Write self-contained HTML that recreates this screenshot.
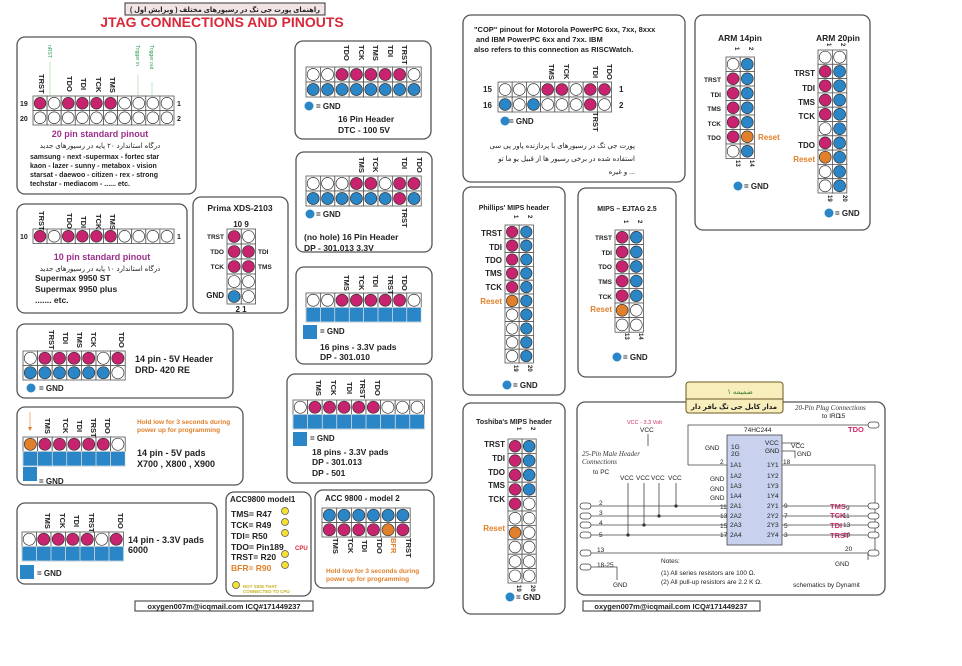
<!DOCTYPE html>
<html><head><meta charset="utf-8"><style>
html,body{margin:0;padding:0;background:#fff;}
svg{display:block;font-family:"Liberation Sans","Noto Sans CJK SC",sans-serif;}
.b{font-weight:bold;fill:#222;}
.bx{fill:#fff;stroke:#555;stroke-width:1.3;}
.fa{font-family:"Liberation Sans","DejaVu Sans",sans-serif;font-size:7px;fill:#222;}
.sm{font-size:7px;}
.v{font-size:7.5px;font-weight:bold;fill:#222;}
.or{fill:#e0802a;}
.mg{fill:#9c2f8a;}
.it{font-family:"Liberation Serif",serif;font-style:italic;font-size:7px;fill:#333;}
.sc{font-size:6.5px;fill:#222;}
.ln{stroke:#444;stroke-width:0.8;fill:none;}
</style></head><body>
<svg id="s" width="962" height="666" viewBox="0 0 962 666" xmlns="http://www.w3.org/2000/svg">
<rect width="962" height="666" fill="#fff"/>
<!-- title -->
<rect x="125" y="3" width="200" height="12" fill="#f2e4e4" stroke="#333" stroke-width="1"/>
<text x="225" y="12" text-anchor="middle" class="fa" style="font-size:7px;font-weight:bold" textLength="190" lengthAdjust="spacingAndGlyphs">راهنمای پورت جی تگ در رسیورهای مختلف ( ویرایش اول )</text>
<text x="222" y="27" text-anchor="middle" style="font-size:14px;font-weight:bold;fill:#d8283a">JTAG CONNECTIONS AND PINOUTS</text>

<!-- boxes -->
<rect class="bx" x="17" y="37" width="179" height="157" rx="8"/>
<rect class="bx" x="17" y="204" width="170" height="109" rx="8"/>
<rect class="bx" x="193" y="197" width="95" height="116" rx="8"/>
<rect class="bx" x="295" y="41" width="136" height="98" rx="8"/>
<rect class="bx" x="296" y="152" width="136" height="100" rx="8"/>
<rect class="bx" x="296" y="267" width="136" height="97" rx="8"/>
<rect class="bx" x="17" y="324" width="216" height="74" rx="8"/>
<rect class="bx" x="17" y="407" width="226" height="78" rx="8"/>
<rect class="bx" x="17" y="503" width="200" height="81" rx="8"/>
<rect class="bx" x="287" y="374" width="145" height="109" rx="8"/>
<rect class="bx" x="226" y="492" width="85" height="104" rx="8"/>
<rect class="bx" x="315" y="490" width="119" height="98" rx="8"/>
<rect class="bx" x="463" y="15" width="222" height="167" rx="8"/>
<rect class="bx" x="695" y="15" width="175" height="215" rx="8"/>
<rect class="bx" x="463" y="187" width="102" height="208" rx="8"/>
<rect class="bx" x="578" y="188" width="98" height="189" rx="8"/>
<rect class="bx" x="463" y="403" width="102" height="211" rx="8"/>
<rect class="bx" x="577" y="402" width="308" height="193" rx="8"/>
<rect x="135" y="601" width="178" height="10" fill="#fff" stroke="#333"/>
<text x="224" y="609" text-anchor="middle" class="b" style="font-size:7.5px">oxygen007m@icqmail.com    ICQ#171449237</text>
<rect x="583" y="601" width="177" height="10" fill="#fff" stroke="#333"/>
<text x="671" y="609" text-anchor="middle" class="b" style="font-size:7.5px">oxygen007m@icqmail.com    ICQ#171449237</text>

<g id="grids"></g>

<!-- Box A 20 pin -->
<g class="v">
<text transform="translate(39,74) rotate(90)">TRST</text>
<text transform="translate(67,76) rotate(90)">TDO</text>
<text transform="translate(81,78) rotate(90)">TDI</text>
<text transform="translate(96,77) rotate(90)">TCK</text>
<text transform="translate(110,77) rotate(90)">TMS</text>
</g>
<g style="font-size:5px;fill:#2a9a4a">
<text transform="translate(48,45) rotate(90)">nRST</text>
<text transform="translate(136,45) rotate(90)">Trigger in</text>
<text transform="translate(150,45) rotate(90)">Trigger out</text>
</g>
<line x1="50" y1="62" x2="50" y2="97" stroke="#8c8" stroke-width="0.5"/>
<line x1="138" y1="75" x2="138" y2="97" stroke="#8c8" stroke-width="0.5"/>
<line x1="152" y1="82" x2="152" y2="97" stroke="#8c8" stroke-width="0.5"/>
<text x="20" y="106" class="b sm">19</text><text x="20" y="121" class="b sm">20</text>
<text x="177" y="106" class="b sm">1</text><text x="177" y="121" class="b sm">2</text>
<text x="100" y="137" text-anchor="middle" class="mg" style="font-size:9px;font-weight:bold">20 pin standard pinout</text>
<text x="100" y="148" text-anchor="middle" class="fa">درگاه استاندارد ۲۰ پایه در رسیورهای جدید</text>
<g class="b" style="font-size:7px"><text x="30" y="159">samsung - next -supermax - fortec star</text>
<text x="30" y="168">kaon - lazer - sunny - metabox - vision</text>
<text x="30" y="177">starsat - daewoo - citizen - rex - strong</text>
<text x="30" y="186">techstar - mediacom - ......  etc.</text></g>

<!-- Box B 10 pin -->
<g class="v">
<text transform="translate(39,211) rotate(90)">TRST</text>
<text transform="translate(67,213) rotate(90)">TDO</text>
<text transform="translate(81,216) rotate(90)">TDI</text>
<text transform="translate(96,214) rotate(90)">TCK</text>
<text transform="translate(110,214) rotate(90)">TMS</text>
</g>
<text x="20" y="239" class="b sm">10</text><text x="177" y="239" class="b sm">1</text>
<text x="102" y="260" text-anchor="middle" class="mg" style="font-size:9px;font-weight:bold">10 pin standard pinout</text>
<text x="100" y="271" text-anchor="middle" class="fa">درگاه استاندارد ۱۰ پایه در رسیورهای جدید</text>
<g class="b" style="font-size:8.5px"><text x="35" y="281">Supermax 9950 ST</text>
<text x="35" y="292">Supermax 9950 plus</text><text x="35" y="303">....... etc.</text></g>

<!-- Prima -->
<text x="240" y="211" text-anchor="middle" class="b" style="font-size:8.5px">Prima  XDS-2103</text>
<text x="241" y="227" text-anchor="middle" class="b" style="font-size:8px">10  9</text>
<g class="b" style="font-size:6.5px"><text x="224" y="239" text-anchor="end">TRST</text>
<text x="224" y="254" text-anchor="end">TDO</text><text x="224" y="269" text-anchor="end">TCK</text>
<text x="258" y="254">TDI</text><text x="258" y="269">TMS</text></g>
<text x="224" y="298" text-anchor="end" class="b" style="font-size:8px">GND</text>
<text x="241" y="312" text-anchor="middle" class="b" style="font-size:8px">2  1</text>

<!-- DTC 16 -->
<g class="v">
<text transform="translate(344,45) rotate(90)">TDO</text>
<text transform="translate(359,45) rotate(90)">TCK</text>
<text transform="translate(373,45) rotate(90)">TMS</text>
<text transform="translate(388,45) rotate(90)">TDI</text>
<text transform="translate(402,45) rotate(90)">TRST</text>
</g>
<text x="316" y="109" class="b" style="font-size:8px">= GND</text>
<text x="338" y="122" class="b" style="font-size:8.5px">16 Pin Header</text>
<text x="338" y="133" class="b" style="font-size:8.5px">DTC - 100      5V</text>

<!-- no hole 16 -->
<g class="v">
<text transform="translate(359,157) rotate(90)">TMS</text>
<text transform="translate(373,157) rotate(90)">TCK</text>
<text transform="translate(402,157) rotate(90)">TDI</text>
<text transform="translate(417,157) rotate(90)">TDO</text>
<text transform="translate(402,208) rotate(90)">TRST</text>
</g>
<text x="316" y="217" class="b" style="font-size:8px">= GND</text>
<text x="304" y="240" class="b" style="font-size:8.5px">(no hole) 16 Pin Header</text>
<text x="304" y="251" class="b" style="font-size:8.5px">DP - 301.013        3.3V</text>

<!-- 16 pads -->
<g class="v">
<text transform="translate(344,275) rotate(90)">TMS</text>
<text transform="translate(359,275) rotate(90)">TCK</text>
<text transform="translate(373,275) rotate(90)">TDI</text>
<text transform="translate(388,275) rotate(90)">TRST</text>
<text transform="translate(402,275) rotate(90)">TDO</text>
</g>
<text x="320" y="334" class="b" style="font-size:8px">= GND</text>
<text x="320" y="350" class="b" style="font-size:8.5px">16 pins -    3.3V pads</text>
<text x="320" y="360" class="b" style="font-size:8.5px">DP - 301.010</text>

<!-- DRD -->
<g class="v">
<text transform="translate(49,330) rotate(90)">TRST</text>
<text transform="translate(63,332) rotate(90)">TDI</text>
<text transform="translate(77,332) rotate(90)">TMS</text>
<text transform="translate(91,332) rotate(90)">TCK</text>
<text transform="translate(119,332) rotate(90)">TDO</text>
</g>
<text x="135" y="362" class="b" style="font-size:9px">14 pin -   5V Header</text>
<text x="135" y="373" class="b" style="font-size:9px">DRD- 420 RE</text>
<text x="39" y="391" class="b" style="font-size:8px">= GND</text>

<!-- X700 -->
<g class="v">
<text transform="translate(45,418) rotate(90)">TMS</text>
<text transform="translate(63,418) rotate(90)">TCK</text>
<text transform="translate(77,420) rotate(90)">TDI</text>
<text transform="translate(91,418) rotate(90)">TRST</text>
<text transform="translate(105,418) rotate(90)">TDO</text>
</g>
<path d="M30 412 V428" stroke="#e0802a" stroke-width="0.6"/><path d="M28 427 L32 427 L30 431Z" class="or"/>
<text x="137" y="424" class="or" style="font-size:6.5px;font-weight:bold">Hold low for 3 seconds during</text>
<text x="137" y="432" class="or" style="font-size:6.5px;font-weight:bold">power up for programming</text>
<text x="137" y="456" class="b" style="font-size:9px">14 pin -   5V pads</text>
<text x="137" y="467" class="b" style="font-size:9px">X700 , X800 , X900</text>
<text x="39" y="484" class="b" style="font-size:8px">= GND</text>

<!-- 6000 -->
<g class="v">
<text transform="translate(45,513) rotate(90)">TMS</text>
<text transform="translate(60,513) rotate(90)">TCK</text>
<text transform="translate(74,515) rotate(90)">TDI</text>
<text transform="translate(89,513) rotate(90)">TRST</text>
<text transform="translate(118,513) rotate(90)">TDO</text>
</g>
<text x="128" y="543" class="b" style="font-size:9px">14 pin -  3.3V pads</text>
<text x="128" y="553" class="b" style="font-size:9px">6000</text>
<text x="37" y="576" class="b" style="font-size:8px">= GND</text>

<!-- 18 pins -->
<g class="v">
<text transform="translate(316,380) rotate(90)">TMS</text>
<text transform="translate(331,380) rotate(90)">TCK</text>
<text transform="translate(347,382) rotate(90)">TDI</text>
<text transform="translate(360,379) rotate(90)">TRST</text>
<text transform="translate(375,380) rotate(90)">TDO</text>
</g>
<text x="310" y="441" class="b" style="font-size:8px">= GND</text>
<text x="312" y="455" class="b" style="font-size:8.5px">18 pins -       3.3V pads</text>
<text x="312" y="465" class="b" style="font-size:8.5px">DP - 301.013</text>
<text x="312" y="476" class="b" style="font-size:8.5px">DP - 501</text>

<!-- ACC model1 -->
<text x="230" y="502" class="b" style="font-size:8px">ACC9800 model1</text>
<g class="b" style="font-size:8.5px"><text x="231" y="517">TMS= R47</text><text x="231" y="528">TCK= R49</text>
<text x="231" y="539">TDI= R50</text><text x="231" y="550">TDO= Pin189</text><text x="231" y="560">TRST= R20</text></g>
<text x="295" y="550" style="font-size:6px;fill:#d8283a;font-weight:bold">CPU</text>
<text x="231" y="571" class="or" style="font-size:8.5px;font-weight:bold">BFR= R90</text>
<text x="243" y="588" style="font-size:4.5px;fill:#c8b020;font-weight:bold">NOT SIDE THAT</text>
<text x="243" y="593" style="font-size:4.5px;fill:#c8b020;font-weight:bold">CONNECTED TO CPU</text>

<!-- ACC model2 -->
<text x="325" y="501" class="b" style="font-size:8px">ACC 9800 - model 2</text>
<g class="v">
<text transform="translate(333,538) rotate(90)">TMS</text>
<text transform="translate(348,538) rotate(90)">TCK</text>
<text transform="translate(362,540) rotate(90)">TDI</text>
<text transform="translate(377,538) rotate(90)">TDO</text>
<text transform="translate(391,538) rotate(90)" class="or">BFR</text>
<text transform="translate(406,538) rotate(90)">TRST</text>
</g>
<text x="326" y="573" class="or" style="font-size:6.5px;font-weight:bold">Hold low for 3 seconds during</text>
<text x="326" y="581" class="or" style="font-size:6.5px;font-weight:bold">power up for programming</text>

<!-- COP -->
<g class="b" style="font-size:7.5px"><text x="474" y="32">"COP" pinout for Motorola PowerPC 6xx, 7xx, 8xxx</text>
<text x="476" y="42">and IBM PowerPC 6xx and 7xx. IBM</text>
<text x="474" y="52">also refers to this connection as RISCWatch.</text></g>
<g class="v">
<text transform="translate(549,64) rotate(90)">TMS</text>
<text transform="translate(564,64) rotate(90)">TCK</text>
<text transform="translate(593,66) rotate(90)">TDI</text>
<text transform="translate(607,64) rotate(90)">TDO</text>
<text transform="translate(593,112) rotate(90)">TRST</text>
</g>
<text x="483" y="92" class="b" style="font-size:8px">15</text><text x="483" y="108" class="b" style="font-size:8px">16</text>
<text x="619" y="92" class="b" style="font-size:8px">1</text><text x="619" y="108" class="b" style="font-size:8px">2</text>
<text x="509" y="124" class="b" style="font-size:8px">= GND</text>
<g class="fa" text-anchor="end"><text x="635" y="148">پورت جی تگ در رسیورهای با پردازنده پاور پی سی</text>
<text x="635" y="161">استفاده شده در برخی رسیور ها از قبیل یو ما تو</text><text x="635" y="174">و غیره ...</text></g>

<!-- ARM -->
<text x="740" y="41" text-anchor="middle" class="b" style="font-size:8.5px">ARM 14pin</text>
<text x="838" y="41" text-anchor="middle" class="b" style="font-size:8.5px">ARM 20pin</text>
<g class="v" style="font-size:6px"><text transform="translate(735,47) rotate(90)">1</text><text transform="translate(749,47) rotate(90)">2</text>
<text transform="translate(827,43) rotate(90)">1</text><text transform="translate(841,43) rotate(90)">2</text>
<text transform="translate(736,160) rotate(90)">13</text><text transform="translate(750,160) rotate(90)">14</text>
<text transform="translate(828,195) rotate(90)">19</text><text transform="translate(843,195) rotate(90)">20</text></g>
<g class="b" style="font-size:6.5px" text-anchor="end"><text x="721" y="82">TRST</text><text x="721" y="97">TDI</text>
<text x="721" y="111">TMS</text><text x="721" y="126">TCK</text><text x="721" y="140">TDO</text></g>
<text x="758" y="140" class="or" style="font-size:8px;font-weight:bold">Reset</text>
<text x="744" y="189" class="b" style="font-size:8px">= GND</text>
<g class="b" style="font-size:8px" text-anchor="end"><text x="815" y="76">TRST</text><text x="815" y="91">TDI</text>
<text x="815" y="105">TMS</text><text x="815" y="119">TCK</text><text x="815" y="148">TDO</text></g>
<text x="815" y="162" text-anchor="end" class="or" style="font-size:8px;font-weight:bold">Reset</text>
<text x="835" y="216" class="b" style="font-size:8px">= GND</text>

<!-- Phillips -->
<text x="514" y="210" text-anchor="middle" class="b" style="font-size:7px">Phillips' MIPS header</text>
<g class="v" style="font-size:6px"><text transform="translate(514,215) rotate(90)">1</text><text transform="translate(528,215) rotate(90)">2</text>
<text transform="translate(514,365) rotate(90)">19</text><text transform="translate(528,365) rotate(90)">20</text></g>
<g class="b" style="font-size:8px" text-anchor="end"><text x="502" y="236">TRST</text><text x="502" y="250">TDI</text>
<text x="502" y="263">TDO</text><text x="502" y="276">TMS</text><text x="502" y="290">TCK</text></g>
<text x="502" y="304" text-anchor="end" class="or" style="font-size:8px;font-weight:bold">Reset</text>
<text x="513" y="388" class="b" style="font-size:8px">= GND</text>

<!-- MIPS EJTAG -->
<text x="627" y="211" text-anchor="middle" class="b" style="font-size:7px">MIPS – EJTAG 2.5</text>
<g class="v" style="font-size:6px"><text transform="translate(624,220) rotate(90)">1</text><text transform="translate(638,220) rotate(90)">2</text>
<text transform="translate(625,333) rotate(90)">13</text><text transform="translate(639,333) rotate(90)">14</text></g>
<g class="b" style="font-size:6.5px" text-anchor="end"><text x="612" y="240">TRST</text><text x="612" y="255">TDI</text>
<text x="612" y="269">TDO</text><text x="612" y="284">TMS</text><text x="612" y="299">TCK</text></g>
<text x="612" y="312" text-anchor="end" class="or" style="font-size:8px;font-weight:bold">Reset</text>
<text x="623" y="360" class="b" style="font-size:8px">= GND</text>

<!-- Toshiba -->
<text x="514" y="424" text-anchor="middle" class="b" style="font-size:7px">Toshiba's MIPS header</text>
<g class="v" style="font-size:6px"><text transform="translate(517,427) rotate(90)">1</text><text transform="translate(531,427) rotate(90)">2</text>
<text transform="translate(517,585) rotate(90)">19</text><text transform="translate(531,585) rotate(90)">20</text></g>
<g class="b" style="font-size:8px" text-anchor="end"><text x="505" y="447">TRST</text><text x="505" y="461">TDI</text>
<text x="505" y="475">TDO</text><text x="505" y="488">TMS</text><text x="505" y="502">TCK</text></g>
<text x="505" y="531" text-anchor="end" class="or" style="font-size:8px;font-weight:bold">Reset</text>
<text x="516" y="600" class="b" style="font-size:8px">= GND</text>

<!-- schematic -->
<rect x="686" y="382" width="97" height="31" rx="3" fill="#f8eebc" stroke="#6b5a20"/>
<text x="740" y="394" text-anchor="middle" class="fa" style="fill:#3a7a2a">ضمیمه ۱</text>
<line x1="686" y1="399" x2="783" y2="399" stroke="#6b5a20"/>
<text x="734" y="409" text-anchor="middle" class="fa" style="font-weight:bold">مدار کابل جی تگ بافر دار</text>
<text x="795" y="410" class="it">20-Pin Plug Connections</text>
<text x="822" y="418" class="sc">to IRD</text>
<text x="848" y="432" style="font-size:7.5px;font-weight:bold;fill:#d0286a">TDO</text>
<text x="627" y="424" style="font-size:5.5px;fill:#d0286a">VCC - 3.3 Volt</text>
<text x="640" y="432" class="sc">VCC</text><line x1="648" y1="434" x2="648" y2="446" class="ln"/>
<text x="582" y="456" class="it">25-Pin Male Header</text><text x="582" y="464" class="it">Connections</text>
<text x="593" y="474" class="sc">to PC</text>
<rect x="727" y="435" width="55" height="110" fill="#c8d2ee" stroke="#444" stroke-width="0.8"/>
<text x="744" y="432" class="sc">74HC244</text>
<g class="sc"><text x="731" y="449">1G</text><text x="731" y="456">2G</text>
<text x="730" y="467">1A1</text><text x="730" y="478">1A2</text><text x="730" y="488">1A3</text><text x="730" y="498">1A4</text>
<text x="730" y="508">2A1</text><text x="730" y="518">2A2</text><text x="730" y="527">2A3</text><text x="730" y="537">2A4</text>
<text x="765" y="445">VCC</text><text x="765" y="453">GND</text>
<text x="767" y="467">1Y1</text><text x="767" y="478">1Y2</text><text x="767" y="488">1Y3</text><text x="767" y="498">1Y4</text>
<text x="767" y="508">2Y1</text><text x="767" y="518">2Y2</text><text x="767" y="527">2Y3</text><text x="767" y="537">2Y4</text>
<text x="705" y="450">GND</text><text x="791" y="448">VCC</text><text x="797" y="456">GND</text>
<text x="710" y="481">GND</text><text x="710" y="491">GND</text><text x="710" y="500">GND</text>
<text x="620" y="480">VCC</text><text x="636" y="480">VCC</text><text x="651" y="480">VCC</text><text x="668" y="480">VCC</text>
<text x="599" y="505">2</text><text x="599" y="515">3</text><text x="599" y="525">4</text><text x="599" y="537">5</text><text x="597" y="552">13</text><text x="597" y="567">18-25</text>
<text x="720" y="464">2</text><text x="720" y="509">11</text><text x="720" y="518">13</text><text x="720" y="528">15</text><text x="720" y="537">17</text>
<text x="783" y="464">18</text><text x="784" y="508">9</text><text x="784" y="518">7</text><text x="784" y="528">5</text><text x="784" y="537">3</text>
<text x="846" y="510">9</text><text x="843" y="518">11</text><text x="843" y="527">13</text><text x="843" y="537">19</text><text x="845" y="551">20</text>
<text x="838" y="418">15</text>
<text x="835" y="566">GND</text><text x="613" y="587">GND</text>
<text x="661" y="563">Notes:</text>
<text x="661" y="575">(1)    All series resistors are 100   Ω.</text>
<text x="661" y="584">(2)    All pull-up resistors are 2.2 K   Ω.</text>
<text x="793" y="587" style="font-size:6.5px">schematics by Dynamit</text></g>
<g style="font-size:7.5px;font-weight:bold;fill:#d0286a"><text x="830" y="509">TMS</text><text x="830" y="518">TCK</text><text x="830" y="528">TDI</text><text x="830" y="538">TRST</text></g>
<g class="ln">
<path d="M688 465 V425 H868"/><path d="M688 465 H727"/>
<path d="M590 506 H727"/><path d="M590 516 H727"/><path d="M590 525 H727"/><path d="M590 535 H727"/>
<path d="M590 553 H875 V465 H782"/><path d="M590 567 H617 V580"/>
<path d="M782 506 H868"/><path d="M782 516 H868"/><path d="M782 525 H868"/><path d="M782 535 H868"/>
<path d="M628 483 V535"/><path d="M644 483 V525"/><path d="M659 483 V516"/><path d="M676 483 V506"/>
<path d="M868 553 V560"/><path d="M782 443 H800"/><path d="M782 451 H795 V458"/>
</g>
<g fill="#fff" stroke="#444" stroke-width="0.8">
<rect x="580" y="503" width="11" height="6" rx="3"/><rect x="580" y="513" width="11" height="6" rx="3"/>
<rect x="580" y="522" width="11" height="6" rx="3"/><rect x="580" y="532" width="11" height="6" rx="3"/>
<rect x="580" y="550" width="11" height="6" rx="3"/><rect x="580" y="564" width="11" height="6" rx="3"/>
<rect x="868" y="422" width="11" height="6" rx="3"/><rect x="868" y="503" width="11" height="6" rx="3"/>
<rect x="868" y="513" width="11" height="6" rx="3"/><rect x="868" y="522" width="11" height="6" rx="3"/>
<rect x="868" y="532" width="11" height="6" rx="3"/><rect x="868" y="550" width="11" height="6" rx="3"/>
</g>
<g fill="#333"><circle cx="628" cy="535" r="1.6"/><circle cx="644" cy="525" r="1.6"/><circle cx="659" cy="516" r="1.6"/><circle cx="676" cy="506" r="1.6"/></g>
</svg>
<script>
var NS="http://www.w3.org/2000/svg",G=document.getElementById("grids");
var C={m:"#c8236f",b:"#2a86c6",o:"#e0802a",w:"#fff",y:"#f4e030"};
function el(t,a){var e=document.createElementNS(NS,t);for(var k in a)e.setAttribute(k,a[k]);G.appendChild(e);return e;}
function grid(x,y,cw,ch,rows){for(var r=0;r<rows.length;r++)for(var c=0;c<rows[r].length;c++){var p=rows[r][c];var X=x+c*cw,Y=y+r*ch;
 el("rect",{x:X,y:Y,width:cw,height:ch,fill:"#fff",stroke:"#555","stroke-width":0.8});
 if(p=="P"){el("rect",{x:X,y:Y,width:cw,height:ch,fill:C.b,stroke:"#fff","stroke-width":0.6});}
 else if(p!="-") el("circle",{cx:X+cw/2,cy:Y+ch/2,r:Math.min(cw,ch)/2-1.2,fill:C[p],stroke:"#333","stroke-width":0.7});}}
function dot(x,y,c,r){el("circle",{cx:x,cy:y,r:r||4.5,fill:C[c],stroke:c=="y"?"#555":"none","stroke-width":0.7});}
function sq(x,y,w,h){el("rect",{x:x,y:y,width:w||14,height:h||14,fill:C.b});}
grid(33,96,14.1,14.5,["mwmmmmwwww","wwwwwwwwww"]);
grid(33,229,14.1,14.5,["mwmmmmwwww"]);
grid(227,229,14.3,15,["mw","mm","mm","ww","bw"]);
grid(306,67,14.4,15,["wwmmmmmw","bbbbbbbb"]);
grid(306,176,14.4,15,["wwwmmwmm","bbbbbbmb"]);
grid(306,293,14.4,14.5,["wwmmmmmw","PPPPPPPP"]);
grid(23,351,14.6,14.5,["wmmmmwm","bbbbbbw"]);
grid(23,437,14.6,14.5,["ommmmmw","PPPPPPP"]);
grid(22,532,14.5,14.5,["wmmmmwm","PPPPPPP"]);
grid(293,400,14.6,14.5,["wmmmmmwww","PPPPPPPPP"]);
grid(322,508,14.7,14.5,["bbbbbb","mmmmom"]);
grid(498,82,14.2,15,["wwwmmwmm","bwbwwwmw"]);
grid(726,57,14.2,14.5,["wb","mb","mb","mb","mb","mo","wb"]);
grid(818,50,14.4,14.3,["ww","mb","mb","mb","mb","wb","mb","ob","wb","wb"]);
grid(505,225,14.2,13.8,["mb","mb","mb","mb","mb","ob","wb","wb","wb","wb"]);
grid(615,230,14.2,14.6,["mb","mb","mb","mb","mb","ow","ww"]);
grid(508,439,14.1,14.4,["mb","mb","mb","mb","mw","ww","ow","ww","ww","ww"]);
dot(309,106,"b");dot(310,214,"b");dot(31,388,"b");dot(505,121,"b");dot(738,186,"b");dot(829,213,"b");dot(507,385,"b");dot(617,357,"b");dot(510,597,"b");
sq(303,325);sq(23,467);sq(20,565);sq(293,432);
[514,525,536,547,557,568].forEach(function(y,i){if(i!=3)dot(285,y-3,"y",3.5);});
dot(236,585,"y",3.5);
</script>
</body></html>
